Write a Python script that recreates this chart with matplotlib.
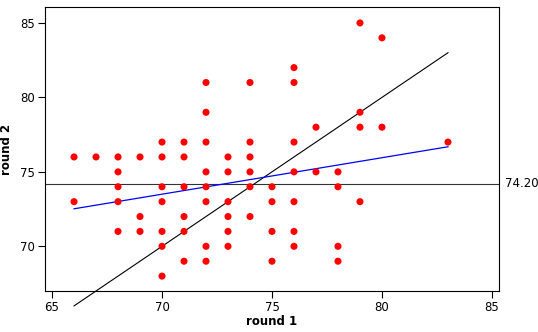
import numpy as np
import matplotlib
matplotlib.use('Agg')
import matplotlib.pyplot as plt

# round 2 score -> list of round 1 scores having that round 2 score
rows = {
    85: [79],
    84: [80],
    82: [76],
    81: [72, 74, 76],
    79: [72, 79],
    78: [77, 79, 80],
    77: [70, 71, 72, 74, 76, 83],
    76: [66, 67, 68, 69, 70, 71, 73, 74],
    75: [68, 72, 73, 74, 76, 77, 78],
    74: [68, 70, 71, 72, 74, 75, 78],
    73: [66, 68, 70, 72, 73, 75, 76, 79],
    72: [69, 71, 73, 74],
    71: [68, 69, 70, 71, 73, 75, 76],
    70: [70, 72, 73, 76, 78],
    69: [71, 72, 75, 78],
    68: [70],
}
round1 = np.array([x for r2, xs in rows.items() for x in xs], dtype=float)
round2 = np.array([r2 for r2, xs in rows.items() for x in xs], dtype=float)
ref_level = 74.20
# fitted line
fit_intercept = 56.35
fit_slope = 0.245

fig = plt.figure(figsize=(5.38, 3.32), dpi=100)
ax = fig.add_axes([45/538, 1-291/332, 454/538, 284/332])

ax.scatter(round1, round2, s=26, c='#ff0000', edgecolors='none', zorder=3)

xr = np.array([round1.min(), round1.max()])
ax.plot(xr, xr, c='black', lw=0.8, zorder=2, clip_on=False)
ax.plot(xr, fit_intercept + fit_slope * xr, c='#0000ff', lw=0.9, zorder=2)
ax.axhline(ref_level, c='#333333', lw=0.8, zorder=1)
ax.text(1.013, ref_level, '%.2f' % ref_level, transform=ax.get_yaxis_transform(),
        va='center', ha='left', fontsize=8.5)

ax.set_xlim(64.68, 85.32)
ax.set_ylim(67.0, 86.07)
ax.set_xticks([65, 70, 75, 80, 85])
ax.set_yticks([70, 75, 80, 85])
ax.tick_params(direction='out', length=5, labelsize=8.5, pad=2)
ax.set_xlabel('round 1', fontsize=8.5, fontweight='bold')
ax.set_ylabel('round 2', fontsize=8.5, fontweight='bold')
ax.xaxis.set_label_coords(0.5, -0.085)
ax.yaxis.set_label_coords(-0.071, 0.5)

fig.savefig('out.png', dpi=100)
